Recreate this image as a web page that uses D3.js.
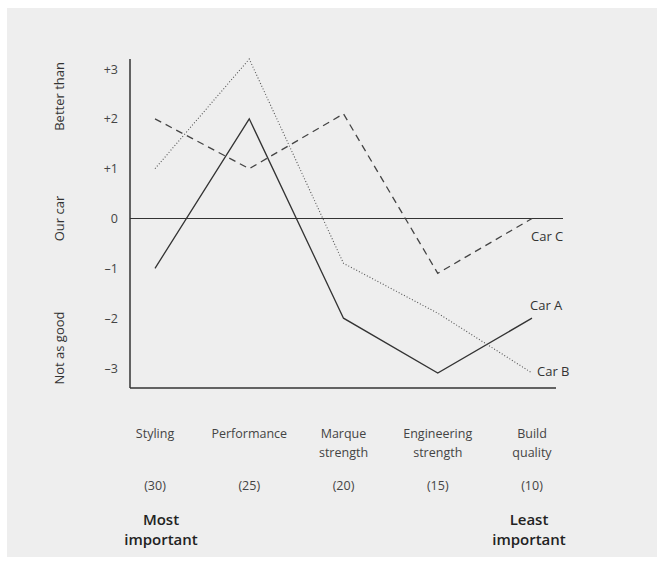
<!DOCTYPE html>
<html>
<head>
<meta charset="utf-8">
<script src="https://cdn.jsdelivr.net/npm/d3@7"></script>
<style>
  html, body { margin: 0; padding: 0; background: #ffffff; }
  svg { display: block; }
  text { font-family: "Open Sans", "DejaVu Sans", sans-serif; }
</style>
</head>
<body>
<div id="chart"></div>
<script>
// ---- data ----
const categories = ["Styling", "Performance", "Marque strength", "Engineering strength", "Build quality"];
const categoryLines = [["Styling"], ["Performance"], ["Marque", "strength"], ["Engineering", "strength"], ["Build", "quality"]];
const weights = ["(30)", "(25)", "(20)", "(15)", "(10)"];
const carA = [-1, 2, -2, -3.1, -2];
const carB = [1, 3.2, -0.9, -1.9, -3.1];
const carC = [2, 1, 2.1, -1.1, 0];
const seriesNames = ["Car A", "Car B", "Car C"];
const yTicks = [3, 2, 1, 0, -1, -2, -3];
const yTickLabels = ["+3", "+2", "+1", "0", "\u20131", "\u20132", "\u20133"];
const sideLabels = ["Better than", "Our car", "Not as good"];
const sideValues = [2.45, 0, -2.6];

// ---- layout ----
const W = 667, H = 565;
const svg = d3.select("#chart").append("svg").attr("width", W).attr("height", H);
svg.append("rect").attr("x", 7).attr("y", 8).attr("width", 650).attr("height", 549).attr("fill", "#eeeeee");

const x = d3.scalePoint().domain(categories).range([155, 532]);
const y = d3.scaleLinear().domain([-3, 3]).range([368, 69]);
const axisX = 130;

// axes lines
svg.append("line").attr("x1", axisX).attr("x2", axisX).attr("y1", y(3.2)).attr("y2", y(-3.4))
  .attr("stroke", "#333").attr("stroke-width", 1.5);
svg.append("line").attr("x1", axisX).attr("x2", 556).attr("y1", y(-3.4)).attr("y2", y(-3.4))
  .attr("stroke", "#333").attr("stroke-width", 1.5);
svg.append("line").attr("x1", axisX).attr("x2", 563).attr("y1", y(0)).attr("y2", y(0))
  .attr("stroke", "#333").attr("stroke-width", 1.2);

// y tick labels via d3 axis
const yAxis = d3.axisLeft(y).tickValues(yTicks).tickSize(0).tickPadding(0)
  .tickFormat((d, i) => yTickLabels[i]);
const gy = svg.append("g").attr("transform", `translate(118,0)`).call(yAxis);
gy.select(".domain").remove();
gy.selectAll("text").attr("font-size", 12.5).attr("fill", "#444")
  .attr("font-family", "'Open Sans', sans-serif");

// side rotated labels
sideLabels.forEach((t, i) => {
  svg.append("text")
    .attr("transform", `translate(64,${y(sideValues[i])}) rotate(-90)`)
    .attr("text-anchor", "middle")
    .attr("font-size", 13).attr("fill", "#333")
    .text(t);
});

// lines
const line = d3.line().x((d, i) => x(categories[i])).y(d => y(d));
const series = [
  { name: "Car A", values: carA, dash: null, width: 1.3, color: "#333" },
  { name: "Car B", values: carB, dash: "1,2", width: 1.1, color: "#555" },
  { name: "Car C", values: carC, dash: "7,5", width: 1.3, color: "#444" }
];
series.forEach(s => {
  svg.append("path").attr("d", line(s.values)).attr("fill", "none")
    .attr("stroke", s.color).attr("stroke-width", s.width)
    .attr("stroke-dasharray", s.dash);
});

// series labels near ends
series.forEach(s => {
  const last = s.values[s.values.length - 1];
  let yy, xx;
  if (s.name === "Car A") { yy = y(last) - 8; xx = 530; }
  else if (s.name === "Car B") { yy = y(last) + 3; xx = 537; }
  else { yy = y(last) + 22; xx = 531; }
  svg.append("text").attr("x", xx).attr("y", yy)
    .attr("font-size", 13).attr("fill", "#333").text(s.name);
});

// category labels
categoryLines.forEach((lines, i) => {
  const t = svg.append("text").attr("text-anchor", "middle").attr("font-size", 12.5).attr("fill", "#444");
  lines.forEach((l, j) => {
    t.append("tspan").attr("x", x(categories[i])).attr("y", 438 + j * 19).text(l);
  });
  svg.append("text").attr("x", x(categories[i])).attr("y", 490).attr("text-anchor", "middle")
    .attr("font-size", 12.5).attr("fill", "#444").text(weights[i]);
});

// importance labels
[["Most", "important", 161], ["Least", "important", 529]].forEach(d => {
  const t = svg.append("text").attr("text-anchor", "middle").attr("font-size", 15)
    .attr("font-weight", 600).attr("fill", "#222");
  t.append("tspan").attr("x", d[2]).attr("y", 525).text(d[0]);
  t.append("tspan").attr("x", d[2]).attr("y", 545).text(d[1]);
});
</script>
</body>
</html>
